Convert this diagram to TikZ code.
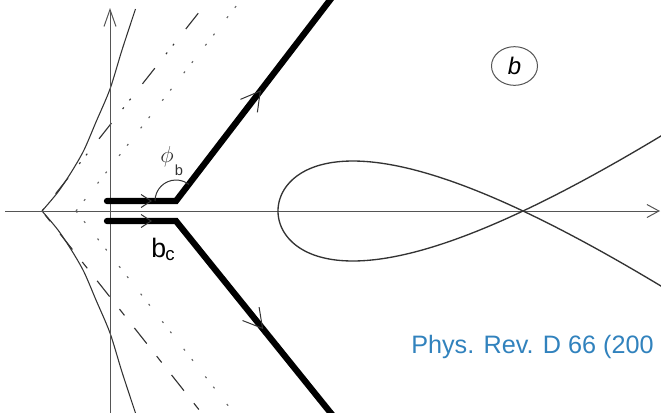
\documentclass[tikz,border=0pt]{standalone}
\usepackage{fontspec}
\setmainfont{Liberation Sans}
\usetikzlibrary{arrows.meta,decorations.markings,shapes.geometric}
\definecolor{axisgray}{HTML}{555555}
\definecolor{curvegray}{HTML}{333333}
\definecolor{dotgray}{HTML}{666666}
\definecolor{refblue}{HTML}{3182BD}
\begin{document}
\begin{tikzpicture}[x=0.75pt,y=-0.75pt,
  axis/.style={draw=axisgray,line width=0.75pt},
  contour/.style={draw=black,line width=4.7pt,line cap=round,line join=miter},
  caustic/.style={draw=curvegray,line width=0.8pt},
  longdashup/.style={draw=curvegray,line width=0.85pt,dash pattern=on 15pt off 13.5pt on 1.5pt off 6.75pt on 1.5pt off 14.25pt,dash phase=36pt},
  longdashdn/.style={draw=curvegray,line width=0.85pt,dash pattern=on 15pt off 12pt on 6pt off 12pt,dash phase=23.25pt},
  dotline/.style={draw=dotgray,line width=0.85pt,dash pattern=on 1.5pt off 8.25pt on 1.5pt off 15pt},
  loopcurve/.style={draw=curvegray,line width=1pt},
  chevh/.style={decorate,decoration={markings,mark=at position 0.652 with {\arrow[curvegray]{Straight Barb[length=7.5pt,width=9.75pt,line width=0.75pt]}}}},
  chevdu/.style={decorate,decoration={markings,mark=at position 0.525 with {\arrow[curvegray]{Straight Barb[length=14pt,width=16pt,line width=0.75pt]}}}},
  chevdd/.style={decorate,decoration={markings,mark=at position 0.538 with {\arrow[curvegray]{Straight Barb[length=14pt,width=16pt,line width=0.75pt]}}}},
  lbl/.style={inner sep=0pt}
]
\useasboundingbox (0,0) rectangle (661,412);
\clip (0,0) rectangle (661,412);

% caustic-like curves on the left
\coordinate (cusp) at (42,211);
\coordinate (ld1) at (208.7,0);
\coordinate (ld2) at (208.7,422);
\coordinate (dt0) at (76,211);
\coordinate (dt1) at (244,-4);
\coordinate (dt2) at (244,426);
\draw[caustic] plot[smooth] coordinates {(42,211) (58,192) (72,171) (84,150) (96,122) (110,89) (122,50) (135.5,9)};
\draw[caustic] plot[smooth] coordinates {(42,211) (58,230) (72,251) (84,272) (96,300) (110,333) (122,372) (135.5,413)};
\draw[longdashup] (cusp) -- (ld1);
\draw[longdashdn] (cusp) -- (ld2);
\draw[dotline] (dt0) -- (dt1);
\draw[dotline] (dt0) -- (dt2);

% axes
\coordinate (xa0) at (5,211);
\coordinate (xa1) at (660,211);
\coordinate (ya0) at (110,414);
\coordinate (ya1) at (110,8);
\draw[axis,-{Straight Barb[length=9pt,width=9.75pt]}] (xa0) -- (xa1);
\draw[axis,-{Straight Barb[length=12.75pt,width=9pt]}] (ya0) -- (ya1);

% fish-shaped curve
\draw[loopcurve] plot[domain=-20:20,samples=241,smooth,variable=\t] ({278+\t*\t},{211-0.0362*(\t*\t-245)*\t/sqrt(1+\t*\t/550)});

% contour
\coordinate (u0) at (107,201);
\coordinate (u1) at (176,201);
\coordinate (u2) at (337.7,-10);
\coordinate (l0) at (107,221);
\coordinate (l1) at (176,221);
\coordinate (l2) at (338,422);
\draw[contour] (u0) -- (u1) -- (u2);
\draw[contour] (l0) -- (l1) -- (l2);
\path[chevh] (u0) -- (u1);
\path[chevh] (l0) -- (l1);
\path[chevdu] (u1) -- (u2);
\path[chevdd] (l1) -- (l2);

% angle arc
\draw[curvegray,line width=0.75pt] (155,201) arc[start angle=-180,end angle=-52.5,radius=21];

% labels
\node[lbl,text=curvegray] (phi) at (167,157) {\fontsize{16}{16}\selectfont$\phi$};
\node[lbl,text=curvegray] (phisub) at (179,170) {\fontsize{11}{11}\selectfont b};
\node[lbl,anchor=base west] (bc) at (151,257) {\fontsize{20}{20}\selectfont b\kern-0.5pt\raisebox{-2.25pt}{\fontsize{14}{14}\selectfont c}};
\node[draw=axisgray,line width=0.75pt,ellipse,minimum width=34.5pt,minimum height=29pt,inner sep=0pt] (bcirc) at (514.5,66) {\fontsize{18}{18}\selectfont\itshape b};
\node[lbl,anchor=base west,text=refblue] (ref) at (411,353) {\fontsize{18.9}{18.9}\selectfont Phys. Rev. D 66 (200};
\end{tikzpicture}
\end{document}
